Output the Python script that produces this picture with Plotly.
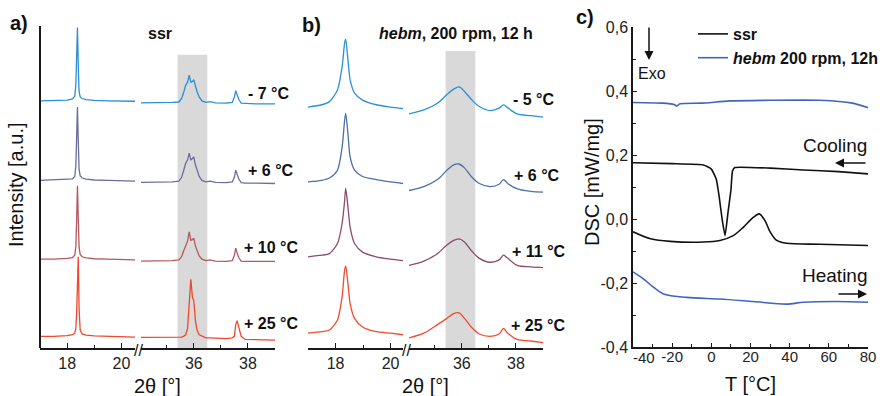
import plotly.graph_objects as go

W, H = 885, 396


def px(x):
    return x / W


def py(y):
    return 1 - y / H


# ------------------------------------------------------------------ data
# Panel a: ssr, XRD (2theta in degrees, intensity a.u. relative to own baseline)
A_LABELS = ["- 7 °C", "+ 6 °C", "+ 10 °C", "+ 25 °C"]
A_COLORS = ["#2b8fd1", "#6c6d9c", "#b5575f", "#f0472d"]
A_OFFSETS = [3.17, 2.15, 1.14, 0.15]

A_LEFT_2THETA = [17.0, 17.5, 18.0, 18.2, 18.28, 18.32, 18.35, 18.38, 18.41, 18.44,
                 18.48, 18.55, 18.7, 19.0, 19.5, 20.0, 20.5]
A_LEFT_M7 = [0.0, 0.005, 0.01, 0.025, 0.06, 0.2, 0.6, 0.94, 0.45, 0.12,
             0.05, 0.03, 0.015, 0.005, 0.0, 0.0, -0.005]
A_LEFT_P6 = [0.0, 0.005, 0.01, 0.02, 0.05, 0.18, 0.55, 0.94, 0.5, 0.14,
             0.06, 0.03, 0.015, 0.005, 0.0, -0.005, -0.01]
A_LEFT_P10 = [0.0, 0.0, 0.01, 0.02, 0.05, 0.16, 0.5, 0.94, 0.52, 0.15,
              0.06, 0.03, 0.015, 0.005, 0.0, -0.005, -0.01]
A_LEFT_P25 = [0.0, 0.0, 0.01, 0.02, 0.04, 0.1, 0.3, 0.75, 1.02, 0.35,
              0.08, 0.03, 0.015, 0.005, 0.0, -0.005, -0.01]

A_RIGHT_2THETA = [34.05, 34.6, 35.2, 35.45, 35.55, 35.62, 35.70, 35.77, 35.83, 35.89,
                  35.95, 36.00, 36.06, 36.12, 36.2, 36.3, 36.45, 36.6, 36.8, 37.2,
                  37.42, 37.50, 37.55, 37.60, 37.66, 37.75, 37.9, 38.3, 38.7, 39.0]
A_RIGHT_M7 = [-0.025, -0.025, -0.02, -0.015, 0.03, 0.1, 0.2, 0.24, 0.33, 0.24,
              0.25, 0.27, 0.18, 0.12, 0.05, 0.0, -0.02, -0.01, -0.025, -0.03,
              -0.02, 0.05, 0.13, 0.08, 0.02, -0.03, -0.035, -0.04, -0.04, -0.04]
A_RIGHT_P6 = [-0.025, -0.025, -0.02, -0.01, 0.04, 0.12, 0.22, 0.26, 0.35, 0.26,
              0.28, 0.30, 0.2, 0.13, 0.05, 0.0, -0.02, -0.01, -0.025, -0.03,
              -0.02, 0.04, 0.13, 0.08, 0.02, -0.03, -0.035, -0.035, -0.04, -0.04]
A_RIGHT_P10 = [-0.025, -0.025, -0.02, -0.01, 0.03, 0.1, 0.18, 0.23, 0.35, 0.24,
               0.25, 0.27, 0.17, 0.11, 0.04, 0.0, -0.02, -0.01, -0.025, -0.03,
               -0.02, 0.05, 0.14, 0.08, 0.02, -0.025, -0.03, -0.03, -0.03, -0.03]
A_RIGHT_P25 = [-0.015, -0.015, -0.015, -0.015, -0.01, 0.0, 0.02, 0.1, 0.4, 0.73,
               0.5, 0.46, 0.2, 0.08, 0.02, 0.0, -0.02, -0.02, -0.025, -0.03,
               -0.02, 0.0, 0.15, 0.2, 0.12, 0.0, -0.04, -0.045, -0.05, -0.05]

A_LEFT = [A_LEFT_M7, A_LEFT_P6, A_LEFT_P10, A_LEFT_P25]
A_RIGHT = [A_RIGHT_M7, A_RIGHT_P6, A_RIGHT_P10, A_RIGHT_P25]

# Panel b: hebm, 200 rpm, 12 h
B_LABELS = ["- 5 °C", "+ 6 °C", "+ 11 °C", "+ 25 °C"]
B_COLORS = ["#2a90d8", "#4a70a4", "#8b4c6c", "#f24a2e"]
B_OFFSETS = [3.08, 2.13, 1.15, 0.18]

B_LEFT_2THETA = [17.0, 17.5, 17.78, 18.07, 18.24, 18.33, 18.37, 18.45, 18.53, 18.69,
                 18.98, 19.48, 20.0, 20.45]
B_LEFT_M5 = [0.01, 0.04, 0.08, 0.23, 0.53, 0.83, 0.88, 0.62, 0.36, 0.19, 0.1, 0.04, 0.01, -0.01]
B_LEFT_P6 = [0.0, 0.02, 0.05, 0.15, 0.45, 0.79, 0.88, 0.62, 0.32, 0.15, 0.07, 0.03, 0.0, -0.02]
B_LEFT_P11 = [0.02, 0.04, 0.06, 0.19, 0.45, 0.74, 0.9, 0.66, 0.4, 0.19, 0.08, 0.02, -0.01, -0.03]
B_LEFT_P25 = [0.01, 0.03, 0.05, 0.18, 0.48, 0.82, 0.87, 0.65, 0.39, 0.2, 0.09, 0.03, 0.01, -0.01]

B_RIGHT_2THETA = [34.05, 34.6, 35.1, 35.45, 35.7, 35.9, 36.1, 36.35, 36.65, 37.05,
                  37.38, 37.54, 37.7, 38.05, 38.55, 39.0]
B_RIGHT_M5 = [-0.077, -0.026, 0.06, 0.17, 0.24, 0.27, 0.21, 0.11, 0.017, -0.035,
              -0.004, 0.038, 0.0, -0.077, -0.1, -0.12]
B_RIGHT_P6 = [-0.11, -0.06, 0.03, 0.15, 0.22, 0.23, 0.18, 0.07, -0.02, -0.06,
              -0.03, 0.03, -0.02, -0.09, -0.12, -0.13]
B_RIGHT_P11 = [-0.09, -0.035, 0.06, 0.17, 0.23, 0.25, 0.21, 0.1, 0.0, -0.05,
               -0.02, 0.04, 0.0, -0.09, -0.11, -0.12]
B_RIGHT_P25 = [-0.05, 0.01, 0.12, 0.2, 0.26, 0.27, 0.2, 0.09, 0.0, -0.03,
               0.0, 0.07, 0.01, -0.07, -0.09, -0.11]

B_LEFT = [B_LEFT_M5, B_LEFT_P6, B_LEFT_P11, B_LEFT_P25]
B_RIGHT = [B_RIGHT_M5, B_RIGHT_P6, B_RIGHT_P11, B_RIGHT_P25]

BAND_2THETA = [35.4, 36.5]

# Panel c: DSC (T in °C, DSC in mW/mg)
SSR_COOL_T = [-40, -20, -4, 0, 2.5, 4.0, 5.5, 7.0, 8.5, 10.0, 10.8, 12, 30, 47, 65, 80]
SSR_COOL_DSC = [0.176, 0.173, 0.169, 0.156, 0.125, 0.07, 0.0, -0.052, 0.02, 0.09,
                0.15, 0.161, 0.159, 0.153, 0.148, 0.141]
SSR_HEAT_T = [-40, -31, -21, -4, 4.4, 11.2, 16.3, 21.4, 24.5, 27.4, 30, 33.4, 38.5, 55.5, 80]
SSR_HEAT_DSC = [-0.040, -0.062, -0.070, -0.072, -0.067, -0.052, -0.026, 0.005, 0.016,
                -0.005, -0.04, -0.067, -0.076, -0.079, -0.083]
HEBM_COOL_T = [-40, -25, -19, -17.7, -16, -5, 9.5, 30, 55.5, 72, 80]
HEBM_COOL_DSC = [0.364, 0.362, 0.358, 0.353, 0.36, 0.362, 0.369, 0.371, 0.371, 0.362, 0.348]
HEBM_HEAT_T = [-40, -34.7, -29.6, -24.5, -12.6, 4.4, 21.4, 38.5, 47, 64, 80]
HEBM_HEAT_DSC = [-0.165, -0.187, -0.213, -0.234, -0.245, -0.25, -0.258, -0.266, -0.26,
                 -0.258, -0.26]

DSC_TICKS = [-0.4, -0.2, 0.0, 0.2, 0.4, 0.6]
DSC_TICK_TEXT = ["-0,4", "-0,2", "0,0", "0,2", "0,4", "0,6"]
DSC_MINOR = [-0.3, -0.1, 0.1, 0.3, 0.5]
T_TICKS = [-40, -20, 0, 20, 40, 60, 80]
# the first label ("-40") sits slightly right of its tick in the reference; it is drawn separately
T_TICK_TEXT = ["", "-20", "0", "20", "40", "60", "80"]
T_FIRST_LABEL = "-40"
T_MINOR = [-30, -10, 10, 30, 50, 70]

SSR_COLOR = "#111111"
HEBM_COLOR = "#4065c0"

# ------------------------------------------------------------------ figure
FONT = "Liberation Sans, Arial, sans-serif"
fig = go.Figure()

for i in range(4):
    fig.add_trace(go.Scatter(x=A_LEFT_2THETA, y=[v + A_OFFSETS[i] for v in A_LEFT[i]],
                             xaxis="x", yaxis="y", mode="lines",
                             line=dict(color=A_COLORS[i], width=1.3),
                             showlegend=False, hoverinfo="skip"))
    fig.add_trace(go.Scatter(x=A_RIGHT_2THETA, y=[v + A_OFFSETS[i] for v in A_RIGHT[i]],
                             xaxis="x2", yaxis="y", mode="lines",
                             line=dict(color=A_COLORS[i], width=1.3),
                             showlegend=False, hoverinfo="skip"))
    fig.add_trace(go.Scatter(x=B_LEFT_2THETA, y=[v + B_OFFSETS[i] for v in B_LEFT[i]],
                             xaxis="x3", yaxis="y2", mode="lines",
                             line=dict(color=B_COLORS[i], width=1.3, shape="spline", smoothing=0.7),
                             showlegend=False, hoverinfo="skip"))
    fig.add_trace(go.Scatter(x=B_RIGHT_2THETA, y=[v + B_OFFSETS[i] for v in B_RIGHT[i]],
                             xaxis="x4", yaxis="y2", mode="lines",
                             line=dict(color=B_COLORS[i], width=1.3, shape="spline", smoothing=0.9),
                             showlegend=False, hoverinfo="skip"))

fig.add_trace(go.Scatter(x=SSR_COOL_T, y=SSR_COOL_DSC, xaxis="x5", yaxis="y3", mode="lines",
                         line=dict(color=SSR_COLOR, width=1.6, shape="spline", smoothing=0.4),
                         name="<b>ssr</b>", showlegend=True))
fig.add_trace(go.Scatter(x=HEBM_COOL_T, y=HEBM_COOL_DSC, xaxis="x5", yaxis="y3", mode="lines",
                         line=dict(color=HEBM_COLOR, width=1.6, shape="spline", smoothing=0.6),
                         name="<b><i>hebm</i> 200 rpm, 12h</b>", showlegend=True))
fig.add_trace(go.Scatter(x=SSR_HEAT_T, y=SSR_HEAT_DSC, xaxis="x5", yaxis="y3", mode="lines",
                         line=dict(color=SSR_COLOR, width=1.6, shape="spline", smoothing=0.8),
                         showlegend=False))
fig.add_trace(go.Scatter(x=HEBM_HEAT_T, y=HEBM_HEAT_DSC, xaxis="x5", yaxis="y3", mode="lines",
                         line=dict(color=HEBM_COLOR, width=1.6, shape="spline", smoothing=0.8),
                         showlegend=False))

AXC = "#1a1a1a"
YDOM = [py(348), py(26)]
YR = [0, 4.13]


def xseg(dom, rng, ticks, minor, anchor):
    return dict(domain=[px(dom[0]), px(dom[1])], range=rng, anchor=anchor,
                showline=True, linecolor=AXC, linewidth=1.5, showgrid=False, zeroline=False,
                tickmode="array", tickvals=ticks, ticktext=[str(t) for t in ticks],
                ticks="inside", ticklen=5, tickwidth=1.3, tickcolor=AXC,
                minor=dict(tickmode="array", tickvals=minor, ticks="inside", ticklen=3,
                           tickwidth=1.2, tickcolor=AXC, showgrid=False),
                tickfont=dict(size=16, color="#222"), automargin=False)


layout = dict(
    width=W, height=H, margin=dict(l=0, r=0, t=0, b=0, autoexpand=False),
    paper_bgcolor="white", plot_bgcolor="rgba(0,0,0,0)",
    font=dict(family=FONT, color="#111"),
    showlegend=True,
    legend=dict(x=px(693), y=py(17), xanchor="left", yanchor="top",
                bgcolor="rgba(0,0,0,0)", font=dict(size=16, color="#111"),
                tracegroupgap=0, itemwidth=30),
    xaxis=xseg([40, 135], [17, 20.5], [18, 20], [19], "y"),
    xaxis2=xseg([141, 275], [34.05, 39], [36, 38], [35, 37], "y"),
    xaxis3=xseg([308, 403], [17, 20.45], [18, 20], [19], "y2"),
    xaxis4=xseg([409, 543], [34.05, 39], [36, 38], [35, 37], "y2"),
    yaxis=dict(domain=YDOM, range=YR, anchor="free", position=px(40), showline=True,
               linecolor=AXC, linewidth=1.5, automargin=False,
               showticklabels=False, ticks="", showgrid=False, zeroline=False),
    yaxis2=dict(domain=YDOM, range=YR, anchor="x3", visible=False),
    xaxis5=dict(domain=[px(633), px(868)], range=[-40, 80], anchor="y3", automargin=False,
                showline=True, linecolor=AXC, linewidth=1.5, showgrid=False, zeroline=False,
                tickmode="array", tickvals=T_TICKS, ticktext=T_TICK_TEXT,
                ticks="inside", ticklen=4, tickwidth=1.3, tickcolor=AXC, ticklabelstandoff=-5,
                minor=dict(tickmode="array", tickvals=T_MINOR, ticks="inside", ticklen=3,
                           tickwidth=1.2, tickcolor=AXC),
                tickfont=dict(size=15, color="#222")),
    yaxis3=dict(domain=[py(347), py(27)], range=[-0.4, 0.6], anchor="x5", automargin=False,
                showline=True, linecolor=AXC, linewidth=1.5, showgrid=False, zeroline=False,
                tickmode="array", tickvals=DSC_TICKS, ticktext=DSC_TICK_TEXT,
                ticks="inside", ticklen=4, tickwidth=1.3, tickcolor=AXC,
                minor=dict(tickmode="array", tickvals=DSC_MINOR, ticks="inside", ticklen=3,
                           tickwidth=1.2, tickcolor=AXC),
                tickfont=dict(size=16, color="#222")),
)
fig.update_layout(**layout)

# grey bands
fig.add_shape(type="rect", xref="x2", yref="y", x0=BAND_2THETA[0], x1=BAND_2THETA[1],
              y0=0, y1=3.76, fillcolor="#d9d9d9", line_width=0, layer="below")
fig.add_shape(type="rect", xref="x4", yref="y2", x0=BAND_2THETA[0], x1=BAND_2THETA[1],
              y0=0, y1=3.81, fillcolor="#d9d9d9", line_width=0, layer="below")


def ann(text, x, y, size=16, xanchor="center", angle=0, color="#111"):
    fig.add_annotation(text=text, x=px(x), y=py(y), xref="paper", yref="paper",
                       xanchor=xanchor, yanchor="middle", showarrow=False, textangle=angle,
                       font=dict(size=size, family=FONT, color=color))


# panel letters and titles
ann("<b>a)</b>", 19, 23, 20)
ann("<b>b)</b>", 311, 25, 20)
ann("<b>c)</b>", 585, 17, 20)
ann("<b>ssr</b>", 160, 33, 16)
ann("<b><i>hebm</i>, 200 rpm, 12 h</b>", 456, 33, 16)

# temperature labels
A_LABEL_POS = [(246, 93), (246, 170), (242, 247), (242, 323)]
B_LABEL_POS = [(511, 99), (512, 175), (510, 251), (509, 325)]
for lab, (x, y) in zip(A_LABELS, A_LABEL_POS):
    ann("<b>" + lab + "</b>", x, y, 16, xanchor="left")
for lab, (x, y) in zip(B_LABELS, B_LABEL_POS):
    ann("<b>" + lab + "</b>", x, y, 16, xanchor="left")

# first T tick label, nudged right of its tick as in the reference
ann(T_FIRST_LABEL, 631, 357, 15, xanchor="left", color="#222")

# axis titles
ann("Intensity [a.u.]", 16, 185, 20, angle=-90)
ann("2θ [°]", 157, 386, 20)
ann("2θ [°]", 425, 386, 20)
ann("DSC [mW/mg]", 592, 182, 20, angle=-90)
ann("T [°C]", 750, 384, 20)

# axis breaks
ann("//", 138, 350, 16)
ann("//", 406, 350, 16)

# DSC annotations
ann("Exo", 652, 73, 16)
ann("Cooling", 835, 145, 19)
ann("Heating", 835, 275, 19)


def arrow(hx, hy, dx, dy):
    fig.add_annotation(text="", x=px(hx), y=py(hy), xref="paper", yref="paper",
                       ax=dx, ay=dy, axref="pixel", ayref="pixel", showarrow=True,
                       arrowhead=2, arrowsize=1.2, arrowwidth=1.5, arrowcolor="#111")


arrow(649, 60, 0, -34)
arrow(835, 163, 32, 0)
arrow(867, 294, -30, 0)

fig.write_html("out.html")
